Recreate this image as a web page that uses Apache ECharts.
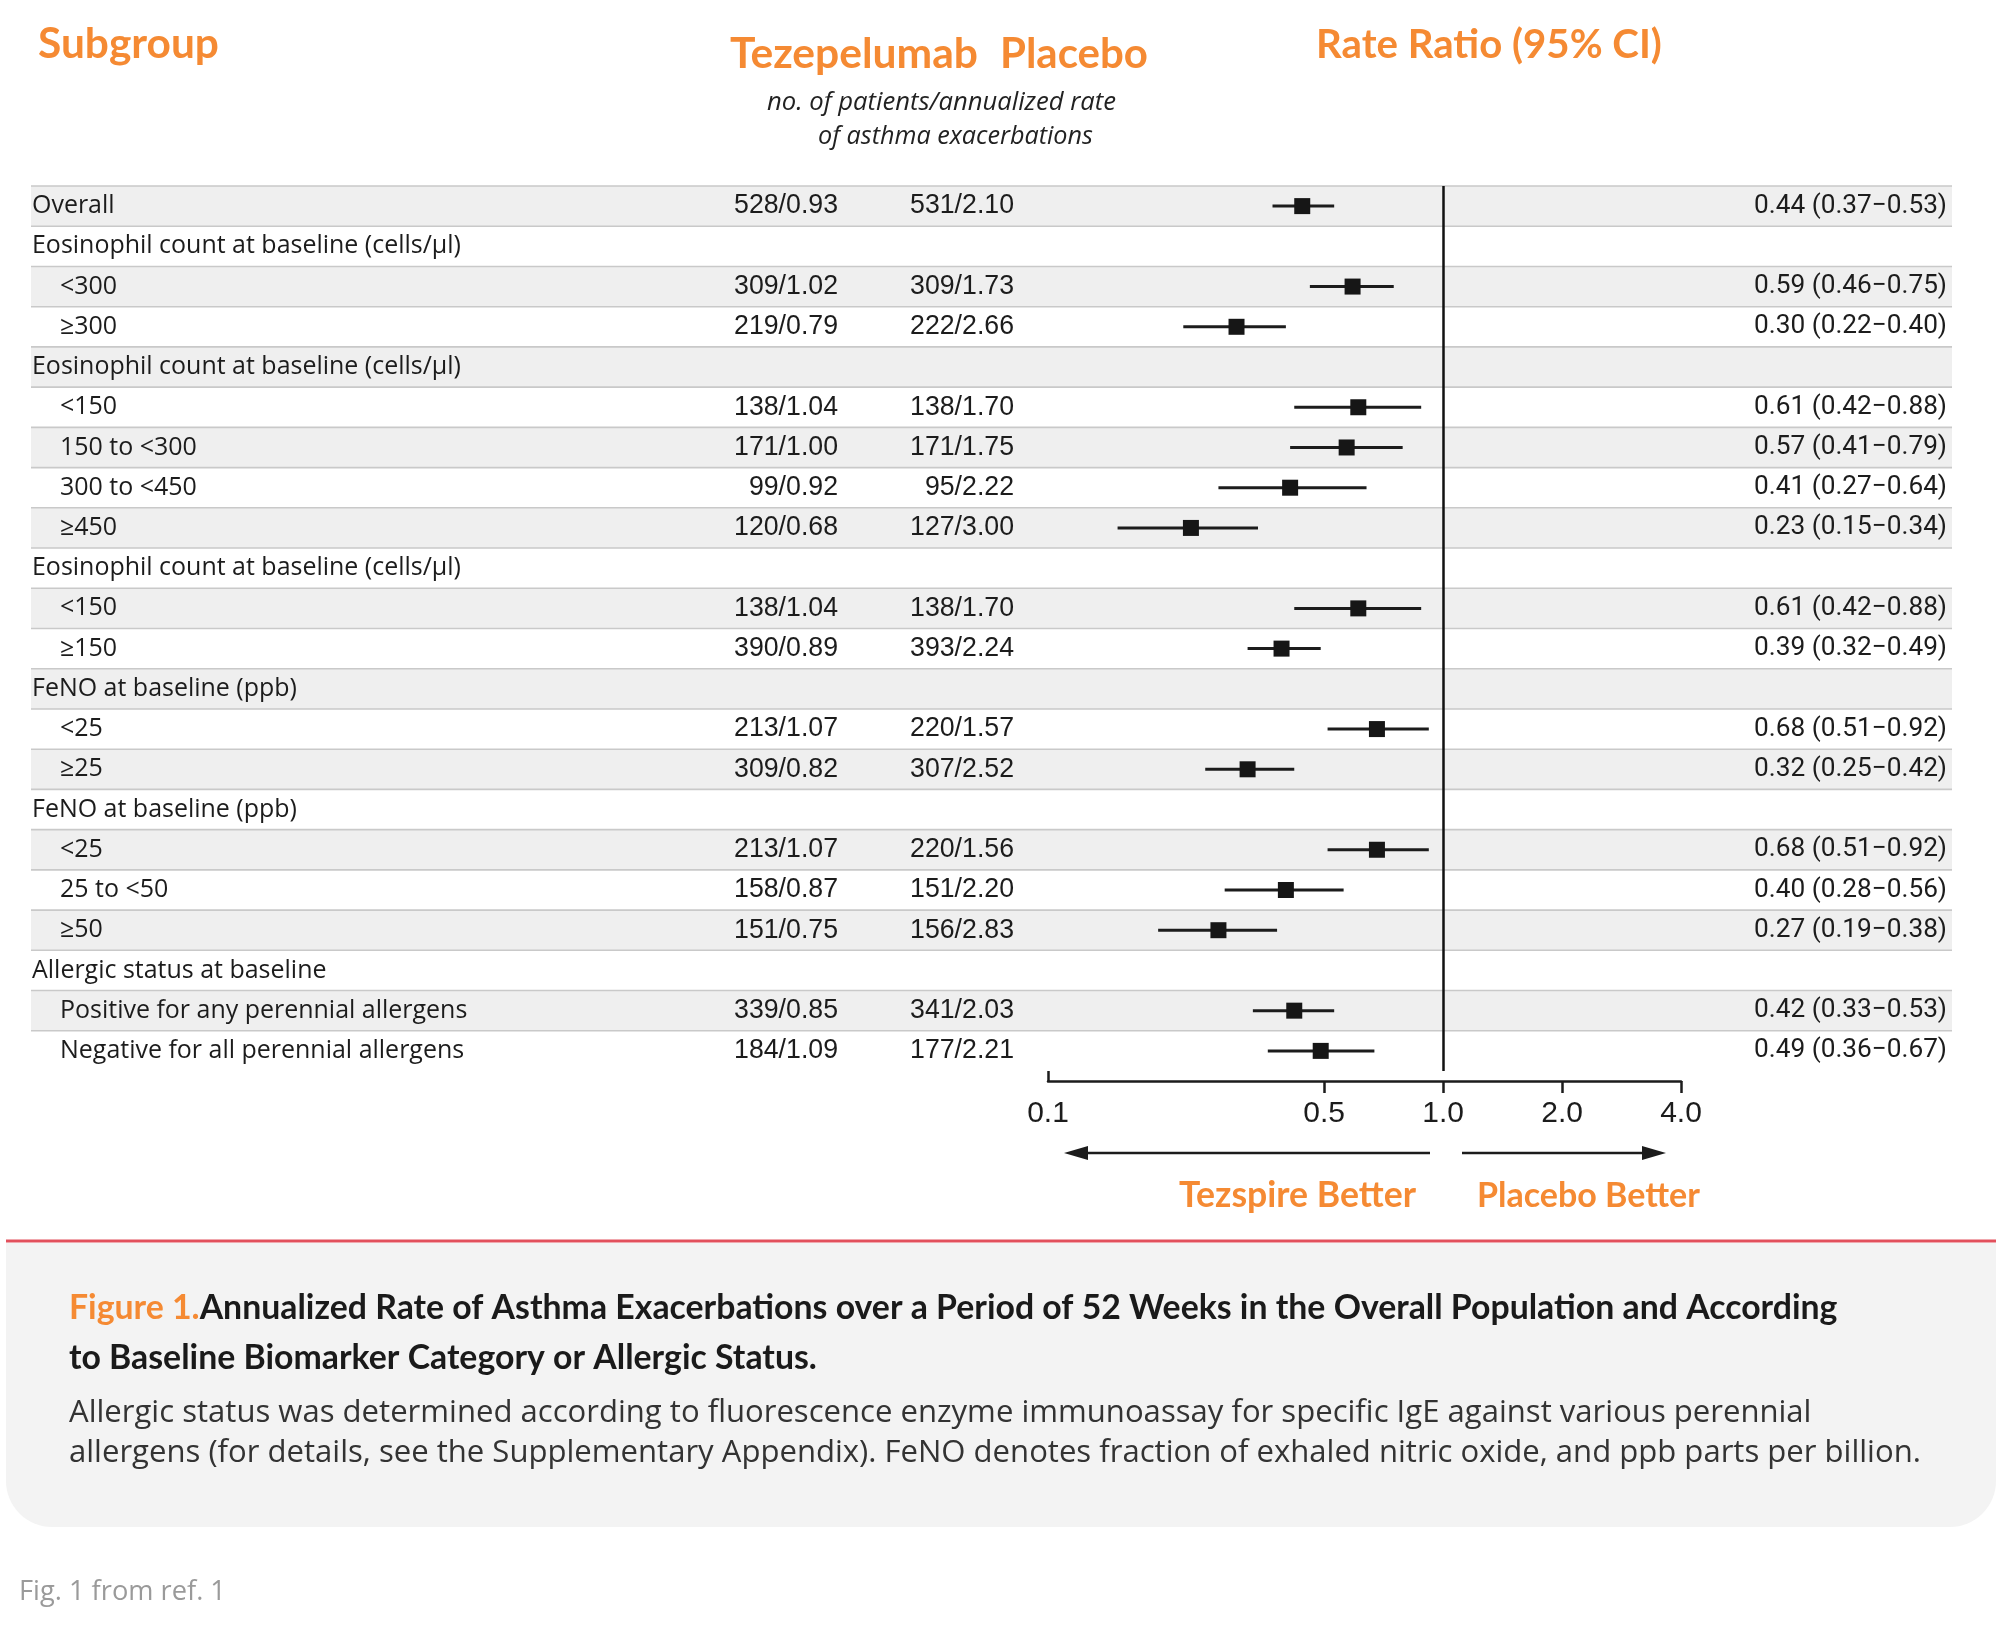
<!DOCTYPE html>
<html><head><meta charset="utf-8">
<script src="https://cdn.jsdelivr.net/npm/echarts@6/dist/echarts.min.js"></script>
<style>html,body{margin:0;padding:0;background:#fff}#c{width:2000px;height:1627px}</style>
</head><body><div id="c"></div>
<script>
// ---------------- data ----------------
const subgroups = [
  'Overall',
  'Eosinophil count at baseline (cells/µl)', '<300', '≥300',
  'Eosinophil count at baseline (cells/µl)', '<150', '150 to <300', '300 to <450', '≥450',
  'Eosinophil count at baseline (cells/µl)', '<150', '≥150',
  'FeNO at baseline (ppb)', '<25', '≥25',
  'FeNO at baseline (ppb)', '<25', '25 to <50', '≥50',
  'Allergic status at baseline', 'Positive for any perennial allergens', 'Negative for all perennial allergens'
];
const indented = [0,0,1,1,0,1,1,1,1,0,1,1,0,1,1,0,1,1,1,0,1,1];
const tezepelumab = ['528/0.93','','309/1.02','219/0.79','','138/1.04','171/1.00','99/0.92','120/0.68','','138/1.04','390/0.89','','213/1.07','309/0.82','','213/1.07','158/0.87','151/0.75','','339/0.85','184/1.09'];
const placebo = ['531/2.10','','309/1.73','222/2.66','','138/1.70','171/1.75','95/2.22','127/3.00','','138/1.70','393/2.24','','220/1.57','307/2.52','','220/1.56','151/2.20','156/2.83','','341/2.03','177/2.21'];
const rateRatio = [0.44,null,0.59,0.30,null,0.61,0.57,0.41,0.23,null,0.61,0.39,null,0.68,0.32,null,0.68,0.40,0.27,null,0.42,0.49];
const ciLow  = [0.37,null,0.46,0.22,null,0.42,0.41,0.27,0.15,null,0.42,0.32,null,0.51,0.25,null,0.51,0.28,0.19,null,0.33,0.36];
const ciHigh = [0.53,null,0.75,0.40,null,0.88,0.79,0.64,0.34,null,0.88,0.49,null,0.92,0.42,null,0.92,0.56,0.38,null,0.53,0.67];
const xTicks = [0.1, 0.5, 1, 2, 4];
const xTickLabels = ['0.1', '0.5', '1.0', '2.0', '4.0'];

// ---------------- helpers ----------------
const ORANGE = '#F58A33';
const INK = '#1c1c1c';
const mctx = document.createElement('canvas').getContext('2d');
function measure(text, family, weight, style, size) {
  mctx.font = (style || 'normal') + ' ' + (weight || 'normal') + ' ' + size + 'px ' + family;
  return mctx.measureText(text).width;
}
function fit(text, family, weight, style, target) {
  return 100 * target / measure(text, family, weight, style, 100);
}
const F_LABEL = "'Open Sans', sans-serif";
const F_NUM = "'Liberation Sans', Arial, sans-serif";
const F_RR = "Roboto, sans-serif";
const F_HEAD = "Lato, 'Open Sans', sans-serif";
const F_BODY = "'Open Sans', sans-serif";

const labelSize = fit('Eosinophil count at baseline (cells/µl)', F_LABEL, 'normal', 'normal', 429);
const numSize = fit('528/0.93', F_NUM, 'normal', 'normal', 104);
const rrSize = fit('0.44 (0.37−0.53)', F_RR, 'normal', 'normal', 193);

const rrText = rateRatio.map((v, i) => v == null ? '' :
  v.toFixed(2) + ' (' + ciLow[i].toFixed(2) + '−' + ciHigh[i].toFixed(2) + ')');

const rows = subgroups.map((s, i) => [1, i]);
const ciData = [], ptData = [];
rateRatio.forEach((v, i) => {
  if (v != null) { ciData.push([i, ciLow[i], ciHigh[i]]); ptData.push([v, i]); }
});

// header/caption text helpers
function txt(text, x, y, opt) {
  return {
    type: 'text', x: x, y: y, silent: true,
    style: Object.assign({
      text: text, fill: INK, align: 'left', verticalAlign: 'middle',
      fontFamily: F_HEAD, fontSize: 24
    }, opt)
  };
}
function fitted(text, x, y, width, family, weight, style, extra) {
  const size = fit(text, family, weight, style, width);
  return txt(text, x, y, Object.assign({fontFamily: family, fontWeight: weight, fontStyle: style, fontSize: size}, extra));
}

const capLead = 'Figure 1.';
const capRest = 'Annualized Rate of Asthma Exacerbations over a Period of 52 Weeks in the Overall Population and According';
const capSize = fit(capLead + capRest, F_HEAD, 'bold', 'normal', 1769);
const leadW = measure(capLead, F_HEAD, 'bold', 'normal', capSize);

const body1 = 'Allergic status was determined according to fluorescence enzyme immunoassay for specific IgE against various perennial';
const body2 = 'allergens (for details, see the Supplementary Appendix). FeNO denotes fraction of exhaled nitric oxide, and ppb parts per billion.';
const bodySize = fit(body2, F_BODY, 'normal', 'normal', 1852);

const graphics = [
  // caption box
  {type: 'rect', silent: true, z: -10, shape: {x: 6, y: 1243, width: 1990, height: 284, r: [0, 0, 46, 46]}, style: {fill: '#f3f3f3'}},
  {type: 'line', silent: true, shape: {x1: 6, y1: 1241, x2: 1996, y2: 1241}, style: {stroke: '#E2505C', lineWidth: 3}},
  // headers
  fitted('Subgroup', 38, 44, 181, F_HEAD, 'bold', 'normal', {fill: ORANGE}),
  fitted('Tezepelumab', 730, 54, 248, F_HEAD, 'bold', 'normal', {fill: ORANGE}),
  fitted('Placebo', 1000, 54, 148, F_HEAD, 'bold', 'normal', {fill: ORANGE}),
  fitted('Rate Ratio (95% CI)', 1316, 45, 346, F_HEAD, 'bold', 'normal', {fill: ORANGE}),
  fitted('no. of patients/annualized rate', 767, 103, 349, F_BODY, 'normal', 'italic', {fill: '#222'}),
  fitted('of asthma exacerbations', 818, 137, 275, F_BODY, 'normal', 'italic', {fill: '#222'}),
  // direction labels
  fitted('Tezspire Better', 1179, 1196, 237, F_HEAD, 'bold', 'normal', {fill: ORANGE}),
  fitted('Placebo Better', 1477, 1196, 223, F_HEAD, 'bold', 'normal', {fill: ORANGE}),
  // arrows
  {type: 'line', silent: true, shape: {x1: 1080, y1: 1153, x2: 1430, y2: 1153}, style: {stroke: INK, lineWidth: 2.5}},
  {type: 'polygon', silent: true, shape: {points: [[1064, 1153], [1088, 1146], [1088, 1160]]}, style: {fill: INK}},
  {type: 'line', silent: true, shape: {x1: 1462, y1: 1153, x2: 1650, y2: 1153}, style: {stroke: INK, lineWidth: 2.5}},
  {type: 'polygon', silent: true, shape: {points: [[1666, 1153], [1642, 1146], [1642, 1160]]}, style: {fill: INK}},
  // caption
  txt(capLead, 69, 1308, {fontFamily: F_HEAD, fontWeight: 'bold', fontSize: capSize, fill: ORANGE}),
  txt(capRest, 69 + leadW, 1308, {fontFamily: F_HEAD, fontWeight: 'bold', fontSize: capSize, fill: '#1a1a1a'}),
  txt('to Baseline Biomarker Category or Allergic Status.', 69, 1358, {fontFamily: F_HEAD, fontWeight: 'bold', fontSize: capSize, fill: '#1a1a1a'}),
  txt(body1, 69, 1413, {fontFamily: F_BODY, fontSize: bodySize, fill: '#333'}),
  txt(body2, 69, 1453, {fontFamily: F_BODY, fontSize: bodySize, fill: '#333'}),
  fitted('Fig. 1 from ref. 1', 19, 1592, 207, F_BODY, 'normal', 'normal', {fill: '#9a9a9a'})
];

// ---------------- chart ----------------
const chart = echarts.init(document.getElementById('c'), null, {renderer: 'canvas', width: 2000, height: 1627});
function nearestLabel(v) {
  let best = 0;
  xTicks.forEach((t, k) => { if (Math.abs(Math.log(t) - Math.log(v)) < Math.abs(Math.log(xTicks[best]) - Math.log(v))) best = k; });
  return xTickLabels[best];
}
const option = {
  animation: false,
  backgroundColor: '#ffffff',
  grid: {left: 1048, right: 319, top: 186, height: 885, containLabel: false, outerBoundsMode: 'none'},
  xAxis: [{
    type: 'log', logBase: 10, min: 0.1, max: 4, position: 'bottom', offset: 10,
    axisLine: {show: true, onZero: false, lineStyle: {color: INK, width: 2.5}},
    axisTick: {show: true, customValues: [0.5, 1, 2, 4], length: 12, lineStyle: {color: INK, width: 2.5}},
    axisLabel: {show: true, customValues: xTicks, formatter: v => nearestLabel(v), margin: 18,
      fontFamily: "'Liberation Sans', sans-serif", fontSize: 30, color: INK},
    splitLine: {show: false}, minorTick: {show: false}
  }, {
    type: 'log', logBase: 10, min: 0.1, max: 4, position: 'bottom', offset: 10,
    axisLine: {show: false, onZero: false},
    axisTick: {show: true, inside: true, customValues: [0.1], length: 10, lineStyle: {color: INK, width: 2.5}},
    axisLabel: {show: false}, splitLine: {show: false}
  }],
  yAxis: {type: 'value', min: -0.5, max: 21.5, inverse: true, show: false},
  graphic: graphics,
  series: [
    { // row bands and separators
      type: 'custom', name: 'bands', z: 0, silent: true, clip: false,
      data: rows, encode: {x: 0, y: 1},
      renderItem: function (params, api) {
        const i = api.value(1);
        const c = api.coord([1, i]);
        const h = api.size([0, 1])[1];
        const top = c[1] - h / 2;
        const children = [];
        if (i % 2 === 0) children.push({type: 'rect', shape: {x: 31, y: top, width: 1921, height: h}, style: {fill: '#efefef'}});
        children.push({type: 'line', shape: {x1: 31, y1: top, x2: 1952, y2: top}, style: {stroke: '#c9c9c9', lineWidth: 1.6}});
        return {type: 'group', children: children};
      }
    },
    { // row texts
      type: 'custom', name: 'texts', z: 5, silent: true, clip: false,
      data: rows, encode: {x: 0, y: 1},
      renderItem: function (params, api) {
        const i = params.dataIndex;
        const y = api.coord([1, i])[1];
        const base = {verticalAlign: 'middle', fill: INK};
        return {type: 'group', children: [
          {type: 'text', style: Object.assign({}, base, {text: subgroups[i], x: indented[i] ? 60 : 32, y: y, align: 'left', fontFamily: F_LABEL, fontSize: labelSize})},
          {type: 'text', style: Object.assign({}, base, {text: tezepelumab[i], x: 838, y: y, align: 'right', fontFamily: F_NUM, fontSize: numSize})},
          {type: 'text', style: Object.assign({}, base, {text: placebo[i], x: 1014, y: y, align: 'right', fontFamily: F_NUM, fontSize: numSize})},
          {type: 'text', style: Object.assign({}, base, {text: rrText[i], x: 1947, y: y, align: 'right', fontFamily: F_RR, fontSize: rrSize})}
        ]};
      }
    },
    { // confidence intervals
      type: 'custom', name: 'ci', z: 6, silent: true,
      data: ciData, encode: {x: [1, 2], y: 0},
      renderItem: function (params, api) {
        const i = api.value(0);
        const p1 = api.coord([api.value(1), i]);
        const p2 = api.coord([api.value(2), i]);
        return {type: 'line', shape: {x1: p1[0], y1: p1[1], x2: p2[0], y2: p2[1]}, style: {stroke: INK, lineWidth: 3}};
      }
    },
    { // point estimates
      type: 'scatter', name: 'rr', z: 7, silent: true,
      data: ptData, symbol: 'rect', symbolSize: 16,
      itemStyle: {color: '#161616', opacity: 1},
      markLine: {
        silent: true, symbol: 'none', label: {show: false},
        lineStyle: {color: '#111', width: 2.5, type: 'solid', opacity: 1},
        data: [{xAxis: 1}]
      }
    }
  ]
};
chart.setOption(option);
</script>
</body></html>
